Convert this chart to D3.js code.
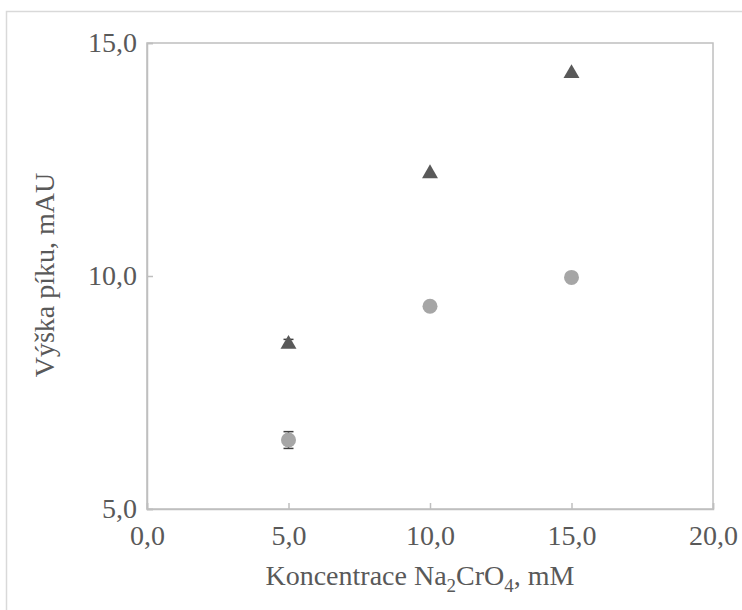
<!DOCTYPE html>
<html><head><meta charset="utf-8">
<script src="https://cdn.jsdelivr.net/npm/d3@7"></script>
<style>body{margin:0;background:#fff}svg{display:block}</style>
</head><body>
<script>
const concentrations = [5, 10, 15];
const triangleValues = [8.56, 12.22, 14.37];
const triangleErrors = [0.08, 0.0, 0.0];
const circleValues = [6.48, 9.35, 9.97];
const circleErrors = [0.18, 0.0, 0.0];
const xTicks = [0, 5, 10, 15, 20];
const yTicks = [5, 10, 15];

const W = 742, H = 610;
const svg = d3.select("body").append("svg").attr("width", W).attr("height", H);
svg.append("rect").attr("width", W).attr("height", H).attr("fill", "#fff");
svg.append("rect").attr("x", 6.5).attr("y", 11.5).attr("width", W).attr("height", H)
  .attr("fill", "none").attr("stroke", "#d9d9d9").attr("stroke-width", 1.5);

const m = {l: 147, r: 713, t: 43, b: 509};
const x = d3.scaleLinear().domain([0, 20]).range([m.l, m.r]);
const y = d3.scaleLinear().domain([5, 15]).range([m.b, m.t]);
const fmt = d => d3.format(".1f")(d).replace(".", ",");
const font = "Liberation Serif, Times New Roman, serif";
const fs = 28;

// plot box
svg.append("rect").attr("x", m.l).attr("y", m.t).attr("width", m.r - m.l).attr("height", m.b - m.t)
  .attr("fill", "none").attr("stroke", "#bfbfbf").attr("stroke-width", 1.5);

const gx = svg.append("g").attr("transform", `translate(0,${m.b})`)
  .call(d3.axisBottom(x).tickValues(xTicks).tickFormat(fmt).tickSize(-6).tickPadding(16));
gx.select(".domain").attr("stroke", "#bfbfbf").attr("stroke-width", 1.5);
gx.selectAll(".tick line").attr("stroke", "#bfbfbf").attr("stroke-width", 1.5);
gx.selectAll("text").attr("font-family", font).attr("font-size", fs).attr("fill", "#595959");

const gy = svg.append("g").attr("transform", `translate(${m.l},0)`)
  .call(d3.axisLeft(y).tickValues(yTicks).tickFormat(fmt).tickSize(-6).tickPadding(10));
gy.select(".domain").attr("stroke", "#bfbfbf").attr("stroke-width", 1.5);
gy.selectAll(".tick line").attr("stroke", "#bfbfbf").attr("stroke-width", 1.5);
gy.selectAll("text").attr("font-family", font).attr("font-size", fs).attr("fill", "#595959");

// axis titles
const xt = svg.append("text").attr("x", (m.l + m.r) / 2 - 10).attr("y", 585).attr("text-anchor", "middle")
  .attr("font-family", font).attr("font-size", fs).attr("fill", "#595959");
xt.append("tspan").text("Koncentrace Na");
xt.append("tspan").text("2").attr("font-size", 19).attr("dy", 7);
xt.append("tspan").text("CrO").attr("dy", -7);
xt.append("tspan").text("4").attr("font-size", 19).attr("dy", 7);
xt.append("tspan").text(", mM").attr("dy", -7);

svg.append("text").attr("transform", `translate(54,${275}) rotate(-90)`)
  .attr("text-anchor", "middle").attr("font-family", font).attr("font-size", fs).attr("fill", "#595959")
  .text("Výška píku, mAU");

// error bars
function errBars(vals, errs, color) {
  const g = svg.append("g").attr("stroke", color).attr("stroke-width", 1.5);
  concentrations.forEach((c, i) => {
    if (!errs[i]) return;
    const cx = x(c), y1 = y(vals[i] - errs[i]), y2 = y(vals[i] + errs[i]);
    g.append("line").attr("x1", cx).attr("x2", cx).attr("y1", y1).attr("y2", y2);
    g.append("line").attr("x1", cx - 5).attr("x2", cx + 5).attr("y1", y1).attr("y2", y1);
    g.append("line").attr("x1", cx - 5).attr("x2", cx + 5).attr("y1", y2).attr("y2", y2);
  });
}
errBars(circleValues, circleErrors, "#404040");
errBars(triangleValues, triangleErrors, "#404040");

const tri = d3.symbol().type(d3.symbolTriangle).size(110);
svg.append("g").selectAll("path").data(concentrations).join("path")
  .attr("transform", (d, i) => `translate(${x(d)},${y(triangleValues[i]) + 1})`)
  .attr("d", tri).attr("fill", "#595959");

svg.append("g").selectAll("circle").data(concentrations).join("circle")
  .attr("cx", d => x(d)).attr("cy", (d, i) => y(circleValues[i])).attr("r", 7.5)
  .attr("fill", "#a6a6a6");
</script>
</body></html>
